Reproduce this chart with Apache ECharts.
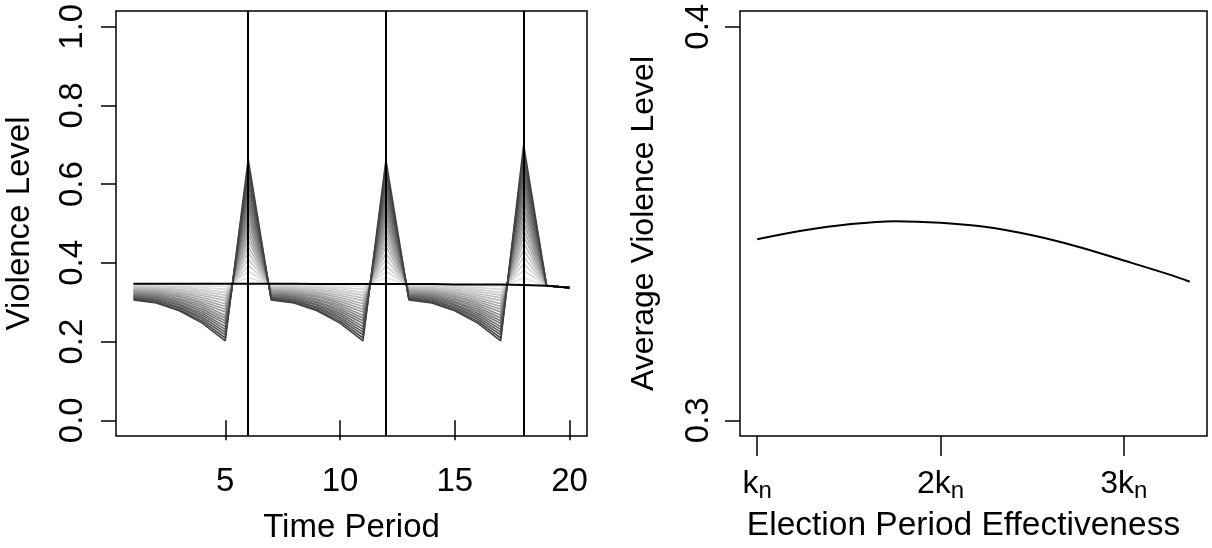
<!DOCTYPE html>
<html>
<head>
<meta charset="utf-8">
<script src="https://cdn.jsdelivr.net/npm/echarts@6/dist/echarts.min.js"></script>
<style>
  html, body { margin: 0; padding: 0; background: #fff; }
  #main { width: 1212px; height: 548px; }
</style>
</head>
<body>
<div id="main"></div>
<script>
// Данные: левая панель (уровень насилия по периодам)
const periods = [1, 2, 3, 4, 5, 6, 7, 8, 9, 10, 11, 12, 13, 14, 15, 16, 17, 18, 19, 20];
const electionPeriods = [6, 12, 18];
const blackLine = [0.347, 0.347, 0.347, 0.347, 0.347, 0.347, 0.347, 0.347, 0.346, 0.346,
  0.346, 0.346, 0.346, 0.346, 0.345, 0.345, 0.345, 0.344, 0.342, 0.337];

// значения серых линий (по одной на линию) в точках цикла между выборами
const dip1 = [0.345, 0.343, 0.341, 0.339, 0.337, 0.335, 0.333, 0.331, 0.329, 0.327,
  0.324, 0.322, 0.320, 0.318, 0.316, 0.314, 0.312, 0.310, 0.308, 0.306];
const dip2 = [0.345, 0.342, 0.340, 0.337, 0.335, 0.332, 0.330, 0.327, 0.325, 0.323,
  0.320, 0.318, 0.315, 0.313, 0.310, 0.308, 0.305, 0.303, 0.300, 0.298];
const dip3 = [0.344, 0.340, 0.337, 0.333, 0.330, 0.326, 0.323, 0.319, 0.316, 0.313,
  0.309, 0.306, 0.302, 0.299, 0.295, 0.292, 0.288, 0.285, 0.281, 0.278];
const dip4 = [0.342, 0.337, 0.332, 0.327, 0.322, 0.317, 0.312, 0.307, 0.302, 0.297,
  0.292, 0.287, 0.282, 0.277, 0.272, 0.267, 0.262, 0.257, 0.252, 0.247];
const dip5 = [0.340, 0.333, 0.325, 0.318, 0.311, 0.304, 0.296, 0.289, 0.282, 0.275,
  0.267, 0.260, 0.253, 0.246, 0.238, 0.231, 0.224, 0.217, 0.209, 0.202];
const peak6 = [0.363, 0.379, 0.394, 0.410, 0.426, 0.442, 0.458, 0.473, 0.489, 0.505,
  0.521, 0.537, 0.552, 0.568, 0.584, 0.600, 0.616, 0.631, 0.647, 0.663];
const peak12 = [0.362, 0.378, 0.393, 0.409, 0.425, 0.441, 0.456, 0.472, 0.488, 0.504,
  0.519, 0.535, 0.551, 0.567, 0.582, 0.598, 0.614, 0.630, 0.645, 0.661];
const peak18 = [0.362, 0.380, 0.397, 0.415, 0.433, 0.451, 0.469, 0.486, 0.504, 0.522,
  0.540, 0.558, 0.575, 0.593, 0.611, 0.629, 0.647, 0.664, 0.682, 0.700];

const violenceTicks = [0, 0.2, 0.4, 0.6, 0.8, 1.0];
const timeTicks = [5, 10, 15, 20];

// Данные: правая панель
const effectiveness = [1.00, 1.25, 1.50, 1.75, 2.00, 2.25, 2.50, 2.75, 3.00, 3.25, 3.36];
const avgViolence = [0.3460, 0.3482, 0.3498, 0.3506, 0.3502, 0.3491, 0.3470, 0.3441, 0.3406, 0.3370, 0.3352];
const effTicks = [1, 2, 3];
const effTickLabels = ["k", "2k", "3k"];
const avgTicks = [0.3, 0.4];

const font = "Liberation Sans";
const txt = "#000";

// собрать путь одной серой линии из точек цикла
function grayPath(i) {
  const cycle = [dip1[i], dip2[i], dip3[i], dip4[i], dip5[i]];
  const vals = [
    ...cycle, peak6[i],
    ...cycle, peak12[i],
    ...cycle, peak18[i],
    blackLine[18], blackLine[19],
  ];
  return periods.map((p, k) => [p, vals[k]]);
}

let grayLines = dip1.map((_, i) => {
  let g = Math.round(225 - (i / (dip1.length - 1)) * 160);
  return {
    type: "line",
    xAxisIndex: 0,
    yAxisIndex: 0,
    data: grayPath(i),
    symbol: "none",
    silent: true,
    lineStyle: { color: `rgb(${g},${g},${g})`, width: 1.6 },
    z: 2,
  };
});

let tickStyle = { color: "#000", width: 1.5 };

let myChart = echarts.init(document.getElementById("main"));

let option = {
  animation: false,
  textStyle: { fontFamily: font },
  grid: [
    {
      left: 116, top: 11, width: 471, height: 425,
      show: true, borderColor: "#000", borderWidth: 1.5,
      containLabel: false, outerBoundsMode: "none",
    },
    {
      left: 740, top: 11, width: 467, height: 425,
      show: true, borderColor: "#000", borderWidth: 1.5,
      containLabel: false, outerBoundsMode: "none",
    },
  ],
  xAxis: [
    {
      gridIndex: 0,
      type: "value",
      min: 0.24,
      max: 20.76,
      name: "Time Period",
      nameLocation: "middle",
      nameGap: 75,
      nameTextStyle: { fontSize: 33, color: txt, fontFamily: font },
      axisLine: { show: false },
      splitLine: { show: false },
      axisTick: { show: true, length: 20, lineStyle: tickStyle, customValues: timeTicks },
      axisLabel: { fontSize: 33, color: txt, margin: 29, customValues: timeTicks },
    },
    {
      gridIndex: 1,
      type: "value",
      min: 0.906,
      max: 3.454,
      name: "Election Period Effectiveness",
      nameLocation: "middle",
      nameGap: 73,
      nameTextStyle: { fontSize: 33.5, color: txt, fontFamily: font, padding: [0, 20, 0, 0] },
      axisLine: { show: false },
      splitLine: { show: false },
      axisTick: { show: true, length: 20, lineStyle: tickStyle, customValues: effTicks },
      axisLabel: {
        customValues: effTicks,
        margin: 29,
        color: txt,
        formatter: (v) => "{b|" + effTickLabels[effTicks.indexOf(v)] + "}{s|n}",
        rich: {
          b: { fontSize: 32, color: txt, fontFamily: font },
          s: { fontSize: 24, color: txt, fontFamily: font, padding: [14, 0, 0, 0] },
        },
      },
    },
  ],
  yAxis: [
    {
      gridIndex: 0,
      type: "value",
      min: -0.04,
      max: 1.04,
      name: "Violence Level",
      nameLocation: "middle",
      nameGap: 80,
      nameTextStyle: { fontSize: 33, color: txt, fontFamily: font },
      axisLine: { show: false },
      splitLine: { show: false },
      axisTick: { show: true, length: 15, lineStyle: tickStyle, customValues: violenceTicks },
      axisLabel: {
        fontSize: 33,
        color: txt,
        rotate: 90,
        margin: 27,
        customValues: violenceTicks,
        formatter: (v) => v.toFixed(1),
      },
    },
    {
      gridIndex: 1,
      type: "value",
      min: 0.296,
      max: 0.404,
      name: "Average Violence Level",
      nameLocation: "middle",
      nameGap: 80,
      nameTextStyle: { fontSize: 32, color: txt, fontFamily: font },
      axisLine: { show: false },
      splitLine: { show: false },
      axisTick: { show: true, length: 15, lineStyle: tickStyle, customValues: avgTicks },
      axisLabel: {
        fontSize: 33,
        color: txt,
        rotate: 90,
        margin: 25,
        customValues: avgTicks,
        formatter: (v) => v.toFixed(1),
      },
    },
  ],
  series: [
    ...grayLines,
    {
      type: "line",
      xAxisIndex: 0,
      yAxisIndex: 0,
      data: periods.map((p, k) => [p, blackLine[k]]),
      symbol: "none",
      silent: true,
      lineStyle: { color: "#000", width: 2 },
      z: 5,
      markLine: {
        silent: true,
        symbol: "none",
        label: { show: false },
        lineStyle: { color: "#000", width: 2, type: "solid" },
        data: electionPeriods.map((p) => ({ xAxis: p })),
      },
    },
    {
      type: "line",
      xAxisIndex: 1,
      yAxisIndex: 1,
      data: effectiveness.map((e, k) => [e, avgViolence[k]]),
      symbol: "none",
      smooth: 0.35,
      silent: true,
      lineStyle: { color: "#000", width: 2 },
    },
  ],
};

myChart.setOption(option);
window.addEventListener("resize", function () {
  myChart.resize();
});
</script>
</body>
</html>
